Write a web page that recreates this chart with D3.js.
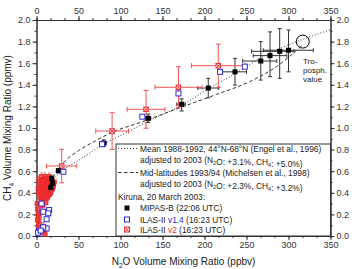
<!DOCTYPE html>
<html><head><meta charset="utf-8">
<script src="https://cdn.jsdelivr.net/npm/d3@7"></script>
<style>
body{margin:0;background:#fff;}
text{font-family:"Liberation Sans",Arial,sans-serif;}
</style></head>
<body><svg id="c" width="355" height="269"></svg>
<script>
// ---- data ----
const xTicks = [0,50,100,150,200,250,300,350];
const yTicks = [0.0,0.2,0.4,0.6,0.8,1.0,1.2,1.4,1.6,1.8,2.0];
// Engel et al. mean (dotted)
const engelCurve = [[14,0.42],[20,0.52],[30,0.6],[50,0.7],[80,0.85],[110,0.97],[135,1.07],[173,1.21],[206,1.37],[238,1.51],[266,1.645],[310,1.8],[350,1.91]];
// Michelsen et al. (dashed)
const michelsenCurve = [[14,0.44],[20,0.55],[30,0.66],[50,0.79],[70,0.88],[90,0.96],[123,1.05],[175,1.2],[214,1.31],[254,1.43],[286,1.57],[317,1.77]];
// MIPAS-B
const mipasN2O = [300,289.5,278,267,236.3,204.5,172.8,133,80,26,18,19.3,17];
const mipasCH4 = [1.72,1.71,1.67,1.62,1.52,1.37,1.22,1.09,0.86,0.605,0.534,0.49,0.45];
const mipasXLo = [270,256,258,245.5,218.5,192,167,130,77,24,16,17.5,15];
const mipasXHi = [329.5,306.5,298,286,250,217,177,136,83,28,20,21,19];
const mipasYLo = [1.52,1.46,1.475,1.444,1.398,1.28,1.157,1.05,0.83,0.585,0.515,0.47,0.43];
const mipasYHi = [1.907,1.92,1.89,1.80,1.645,1.46,1.27,1.13,0.89,0.625,0.555,0.51,0.47];
// ILAS-II v1.4 (blue open squares)
const ilas14N2O = [248,218.5,169,126,78,32,6,8,15,14,12,12,8,3,2,5];
const ilas14CH4 = [1.568,1.52,1.32,1.105,0.85,0.595,0.30,0.225,0.24,0.21,0.155,0.07,0.08,0.04,0.03,0.05];
// ILAS-II v2 with large error bars
const ilas2N2O = [216.4,169,130.4,90,30];
const ilas2CH4 = [1.577,1.377,1.173,0.972,0.648];
const ilas2XErr = [32,28,22.5,19.5,18];
const ilas2YErr = [0.2,0.19,0.175,0.17,0.155];
// ILAS-II v2 low-altitude cloud
const ilas2CloudN2O = [3,4,5,5,6,6,7,7,8,8,9,9,10,10,11,11,12,12,13,13,14,14,15,15,16,16,17,18,18,19,20,21,4,3,2,5,7,1,2,1,3,2,1,4,3,9,10,8,6,11,13,6,9,12,15,8,11,14,17,19,16];
const ilas2CloudCH4 = [0.52,0.47,0.42,0.5,0.38,0.55,0.45,0.33,0.52,0.41,0.48,0.37,0.55,0.44,0.50,0.40,0.47,0.35,0.53,0.43,0.49,0.39,0.45,0.55,0.41,0.51,0.47,0.43,0.52,0.49,0.46,0.50,0.36,0.40,0.44,0.30,0.28,0.25,0.20,0.15,0.12,0.08,0.30,0.22,0.17,0.05,0.02,0.09,0.34,0.31,0.36,0.47,0.43,0.51,0.38,0.35,0.46,0.53,0.40,0.44,0.48];

// ---- layout ----
const svg = d3.select("#c");
const L=36.5,R=330.5,T=20,B=236;
const x = d3.scaleLinear().domain([0,350]).range([L,R]);
const y = d3.scaleLinear().domain([0,2]).range([B,T]);
const RED="#ee2b2b", REDB="#f05555", BLUE="#2a2ad6";

svg.append("rect").attr("width",355).attr("height",269).attr("fill","#fff");

const minorX = d3.range(0,351,50/3).map(v=>+v.toFixed(4));
const minorY = d3.range(0,2.001,0.1).map(v=>+v.toFixed(2));
function styleAxis(g){g.selectAll("path").attr("stroke","#333");g.selectAll("line").attr("stroke","#333");g.selectAll("text").attr("font-size","9px").attr("fill","#333").attr("font-family","Liberation Sans, Arial, sans-serif");}
svg.append("g").attr("transform",`translate(0,${B})`).call(d3.axisBottom(x).tickValues(minorX).tickSize(2).tickFormat("")).call(styleAxis);
svg.append("g").attr("transform",`translate(0,${B})`).call(d3.axisBottom(x).tickValues(xTicks).tickSize(4).tickSizeOuter(0).tickPadding(2).tickFormat(d3.format("d"))).call(styleAxis);
svg.append("g").attr("transform",`translate(0,${T})`).call(d3.axisTop(x).tickValues(minorX).tickSize(2).tickFormat("")).call(styleAxis);
svg.append("g").attr("transform",`translate(0,${T})`).call(d3.axisTop(x).tickValues(xTicks).tickSize(4).tickSizeOuter(0).tickPadding(2).tickFormat(d3.format("d"))).call(styleAxis);
svg.append("g").attr("transform",`translate(${L},0)`).call(d3.axisLeft(y).tickValues(minorY).tickSize(2).tickFormat("")).call(styleAxis);
svg.append("g").attr("transform",`translate(${L},0)`).call(d3.axisLeft(y).tickValues(yTicks).tickSize(4).tickSizeOuter(0).tickPadding(2).tickFormat(d3.format(".1f"))).call(styleAxis);
svg.append("g").attr("transform",`translate(${R},0)`).call(d3.axisRight(y).tickValues(minorY).tickSize(2).tickFormat("")).call(styleAxis);
svg.append("g").attr("transform",`translate(${R},0)`).call(d3.axisRight(y).tickValues(yTicks).tickSize(4).tickSizeOuter(0).tickPadding(2).tickFormat(d3.format(".1f"))).call(styleAxis);

const line = d3.line().x(d=>x(d[0])).y(d=>y(d[1])).curve(d3.curveMonotoneX);
svg.append("path").attr("d",line(engelCurve)).attr("fill","none").attr("stroke","#333").attr("stroke-width",1).attr("stroke-dasharray","1,2");
svg.append("path").attr("d",line(michelsenCurve)).attr("fill","none").attr("stroke","#333").attr("stroke-width",1).attr("stroke-dasharray","3.5,2.5");

function errBar(g,x0,x1,y0,y1,xc,yc,col,cap){
  g.append("line").attr("x1",x(x0)).attr("x2",x(x1)).attr("y1",y(yc)).attr("y2",y(yc)).attr("stroke",col);
  g.append("line").attr("x1",x(xc)).attr("x2",x(xc)).attr("y1",y(y0)).attr("y2",y(y1)).attr("stroke",col);
  [x0,x1].forEach(v=>g.append("line").attr("x1",x(v)).attr("x2",x(v)).attr("y1",y(yc)-cap).attr("y2",y(yc)+cap).attr("stroke",col));
  [y0,y1].forEach(v=>g.append("line").attr("x1",x(xc)-cap).attr("x2",x(xc)+cap).attr("y1",y(v)).attr("y2",y(v)).attr("stroke",col));
}
function redMarker(g,px,py,s,fill){
  g.append("rect").attr("x",px-s/2).attr("y",py-s/2).attr("width",s).attr("height",s).attr("fill",fill).attr("stroke",RED).attr("stroke-width",1);
  g.append("path").attr("d",`M${px-s/2},${py-s/2}L${px+s/2},${py+s/2}M${px+s/2},${py-s/2}L${px-s/2},${py+s/2}`).attr("stroke",RED).attr("stroke-width",1);
}

// ILAS-II v2 cloud
const gc = svg.append("g").attr("stroke-width",0.8);
ilas2CloudN2O.forEach((n,i)=>{
  const c=ilas2CloudCH4[i];
  errBar(gc,Math.max(0,n-2.5),n+2.5,Math.max(0,c-0.035),c+0.035,n,c,REDB,1);
});
ilas2CloudN2O.forEach((n,i)=>redMarker(gc,x(n),y(ilas2CloudCH4[i]),4,"none"));

// MIPAS-B error bars
const gm = svg.append("g").attr("stroke-width",1);
mipasN2O.forEach((n,i)=>errBar(gm,mipasXLo[i],mipasXHi[i],mipasYLo[i],mipasYHi[i],n,mipasCH4[i],"#333",2));

// ILAS-II v2 with error bars
const gr = svg.append("g").attr("stroke-width",1);
ilas2N2O.forEach((n,i)=>errBar(gr,n-ilas2XErr[i],n+ilas2XErr[i],ilas2CH4[i]-ilas2YErr[i],ilas2CH4[i]+ilas2YErr[i],n,ilas2CH4[i],REDB,2.5));
ilas2N2O.forEach((n,i)=>redMarker(gr,x(n),y(ilas2CH4[i]),4.5,"#fff"));

// MIPAS-B markers
mipasN2O.forEach((n,i)=>svg.append("rect").attr("x",x(n)-2.5).attr("y",y(mipasCH4[i])-2.5).attr("width",5).attr("height",5).attr("fill","#000"));

// ILAS-II v1.4 blue squares
ilas14N2O.forEach((n,i)=>svg.append("rect").attr("x",x(n)-2.5).attr("y",y(ilas14CH4[i])-2.5).attr("width",5).attr("height",5).attr("fill","#fff").attr("stroke",BLUE).attr("stroke-width",1));

// tropopause circle
svg.append("circle").attr("cx",x(317)).attr("cy",y(1.8)).attr("r",6.5).attr("fill","none").attr("stroke","#000").attr("stroke-width",1);
const tt = svg.append("text").attr("font-size","8px").attr("fill","#222");
["Tro-","posph.","value"].forEach((s,i)=>tt.append("tspan").attr("x",303).attr("y",64+i*9).text(s));

// legend
const lg = svg.append("g");
lg.append("rect").attr("x",116).attr("y",144).attr("width",R-116).attr("height",B-144).attr("fill","#fff").attr("stroke","#333").attr("stroke-width",1);
const fs="8.4px";
function txt(xp,yp){return lg.append("text").attr("x",xp).attr("y",yp).attr("font-size",fs).attr("fill","#222");}
function sub(t,s){t.append("tspan").attr("font-size","5.5px").attr("dy",2).text(s);t.append("tspan").attr("dy",-2).text("");}
lg.append("line").attr("x1",118).attr("x2",138).attr("y1",148.5).attr("y2",148.5).attr("stroke","#333").attr("stroke-dasharray","1,2");
txt(140,151.5).text("Mean 1988-1992, 44°N-68°N (Engel et al., 1996)");
let t=txt(140,162.5); t.append("tspan").text("adjusted to 2003 (N"); sub(t,"2"); t.append("tspan").text("O: +3.1%, CH"); sub(t,"4"); t.append("tspan").text(": +5.0%)");
lg.append("line").attr("x1",118).attr("x2",138).attr("y1",172.5).attr("y2",172.5).attr("stroke","#333").attr("stroke-dasharray","3.5,2.5");
txt(140,175.5).text("Mid-latitudes 1993/94 (Michelsen et al., 1998)");
t=txt(140,186.5); t.append("tspan").text("adjusted to 2003 (N"); sub(t,"2"); t.append("tspan").text("O: +2.3%, CH"); sub(t,"4"); t.append("tspan").text(": +3.2%)");
txt(118,199.5).text("Kiruna, 20 March 2003:");
lg.append("rect").attr("x",124.5).attr("y",205.5).attr("width",5).attr("height",5).attr("fill","#000");
txt(140,211).text("MIPAS-B (22:06 UTC)");
lg.append("rect").attr("x",124.5).attr("y",217).attr("width",5).attr("height",5).attr("fill","#fff").attr("stroke",BLUE);
t=txt(140,222.5); t.append("tspan").text("ILAS-II "); t.append("tspan").attr("fill",BLUE).text("v1.4"); t.append("tspan").text(" (16:23 UTC)");
redMarker(lg,127,229.5,5,"#fff");
t=txt(140,233); t.append("tspan").text("ILAS-II "); t.append("tspan").attr("fill",RED).text("v2"); t.append("tspan").text(" (16:23 UTC)");

// axis titles
const xt = svg.append("text").attr("x",(L+R)/2).attr("y",265).attr("text-anchor","middle").attr("font-size","10px").attr("fill","#222");
xt.append("tspan").text("N"); xt.append("tspan").attr("font-size","6.5px").attr("dy",2.5).text("2"); xt.append("tspan").attr("dy",-2.5).text("O Volume Mixing Ratio (ppbv)");
const yt = svg.append("text").attr("transform",`translate(11,${(T+B)/2}) rotate(-90)`).attr("text-anchor","middle").attr("font-size","10px").attr("fill","#222");
yt.append("tspan").text("CH"); yt.append("tspan").attr("font-size","6.5px").attr("dy",2.5).text("4"); yt.append("tspan").attr("dy",-2.5).text(" Volume Mixing Ratio (ppmv)");
</script></body></html>
